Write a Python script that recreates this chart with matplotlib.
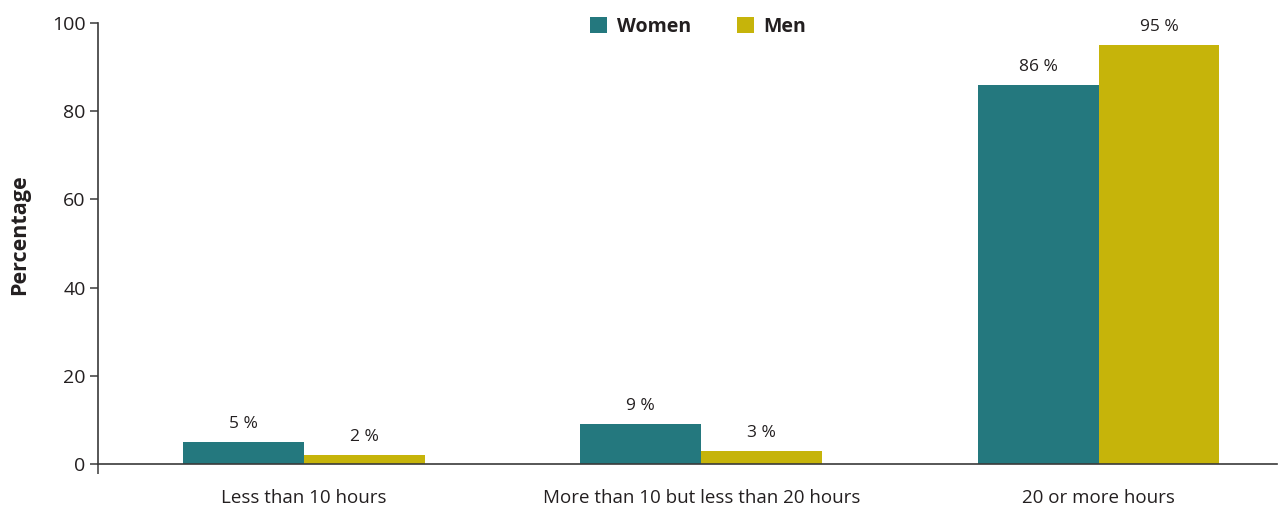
import matplotlib
matplotlib.use("Agg")
import matplotlib.pyplot as plt
import numpy as np

categories = ["Less than 10 hours", "More than 10 but less than 20 hours", "20 or more hours"]
women = [5, 9, 86]
men = [2, 3, 95]
series_names = ["Women", "Men"]
y_ticks = [0, 20, 40, 60, 80, 100]

teal = "#24787E"
gold = "#C6B40A"
ink = "#231F20"
axis_col = "#3A3A3A"

plt.rcParams["font.family"] = ["Open Sans", "DejaVu Sans"]

fig = plt.figure(figsize=(12.8, 5.07), dpi=100)
ax = fig.add_axes([0.0766, 0.0848, 0.9214, 0.8698])

x = np.arange(len(categories))
w = 0.304
b1 = ax.bar(x - w / 2, women, w, color=teal, label=series_names[0])
b2 = ax.bar(x + w / 2, men, w, color=gold, label=series_names[1])

for bars, vals in ((b1, women), (b2, men)):
    for rect, v in zip(bars, vals):
        ax.annotate(f"{v} %", (rect.get_x() + rect.get_width() / 2, v),
                    xytext=(0, 13), textcoords="offset points",
                    ha="center", va="center", fontsize=12.5, color=ink)

xmin, xmax = -0.518, 2.45
ax.set_xlim(xmin, xmax)
ax.set_ylim(0, 100)
ax.set_yticks(y_ticks)
ax.set_xticks(x)
ax.set_xticklabels(categories, fontsize=13.5, color=ink)
ax.set_xticks([xmin], minor=True)
ax.tick_params(axis="x", which="major", length=0, pad=18)
ax.tick_params(axis="x", which="minor", length=7, width=1.1, color=axis_col, direction="out")
ax.tick_params(axis="y", length=6, width=1.1, color=axis_col, labelsize=14,
               labelcolor=ink, pad=3)

for s in ("top", "right"):
    ax.spines[s].set_visible(False)
for s in ("left", "bottom"):
    ax.spines[s].set_color(axis_col)
    ax.spines[s].set_linewidth(1.2)

ax.set_ylabel("Percentage", fontsize=15.5, fontweight="bold", color=ink)
ax.yaxis.set_label_coords(-0.058, 0.52)

leg = ax.legend(loc="center", bbox_to_anchor=(0.509, 0.992), ncol=2,
                frameon=False, handlelength=0.85, handleheight=0.85,
                handletextpad=0.5, columnspacing=2.4,
                prop={"size": 14, "weight": "bold"})
for t in leg.get_texts():
    t.set_color(ink)

fig.savefig("out.png", dpi=100)
